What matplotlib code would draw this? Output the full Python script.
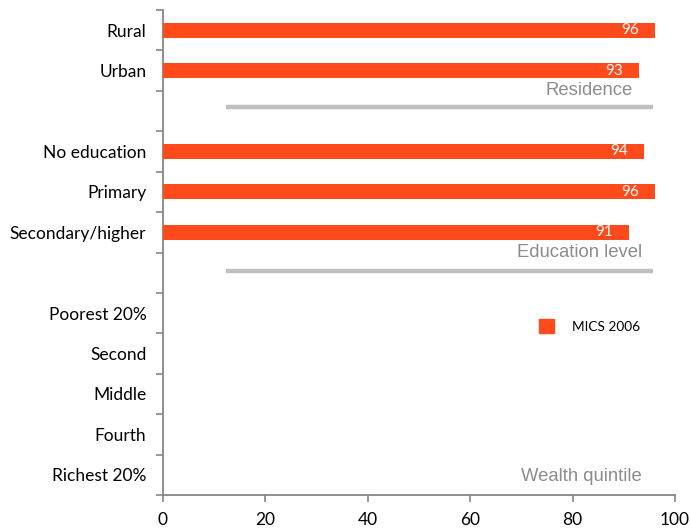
import matplotlib
matplotlib.use("Agg")
import matplotlib.pyplot as plt
from matplotlib.patches import Patch

# Categories, top to bottom (None = spacer rows between groups)
categories = ["Rural", "Urban", None, "No education", "Primary",
              "Secondary/higher", None, "Poorest 20%", "Second", "Middle",
              "Fourth", "Richest 20%"]
mics_2006 = [96, 93, None, 94, 96, 91, None, None, None, None, None, None]

group_names = ["Residence", "Education level", "Wealth quintile"]
x_ticks = [0, 20, 40, 60, 80, 100]
series_name = "MICS 2006"

BAR = "#FF4A1C"
GREY = "#8C8C8C"
AXIS = "#868686"

plt.rcParams["font.family"] = ["Lato", "DejaVu Sans"]

fig = plt.figure(figsize=(6.91, 5.29), dpi=100)
ax = fig.add_axes([163 / 691, 1 - 495 / 529, 512 / 691, 485 / 529])

pos = list(range(len(categories)))
for p, v in zip(pos, mics_2006):
    if v is None:
        continue
    ax.barh(p, v, height=0.37, color=BAR, zorder=3)
    ax.text(v - 3.1, p, f"{v}", color="white", ha="right", va="center",
            fontsize=11, zorder=4)

# group separators and headings
sep_rows = [1.91, 5.97]
for y in sep_rows:
    ax.plot([12.4, 95.8], [y, y], color="#BFBFBF", lw=3.2,
            solid_capstyle="butt", zorder=2)
heading_pos = [(91.8, 1.48), (93.5, 5.51), (93.5, 11.05)]
for name, (x, y) in zip(group_names, heading_pos):
    ax.text(x, y, name, color=GREY, ha="right", va="center", fontsize=13.3,
            family=["Liberation Sans", "DejaVu Sans"])

ax.set_xlim(0, 100)
ax.set_ylim(len(categories) - 0.5, -0.5)
ax.set_xticks(x_ticks)
ax.set_xticklabels([str(t) for t in x_ticks], fontsize=12.5)
ax.set_yticks([p for p, c in zip(pos, categories) if c])
ax.set_yticklabels([c for c in categories if c], fontsize=12.5)
ax.set_yticks([p - 0.5 for p in pos] + [len(categories) - 0.5], minor=True)

ax.tick_params(axis="y", which="major", length=0, pad=12)
ax.tick_params(axis="y", which="minor", length=5, width=1.2, color=AXIS,
               direction="out")
ax.tick_params(axis="x", length=5, width=1.2, color=AXIS, direction="out",
               pad=7)

for s in ["top", "right"]:
    ax.spines[s].set_visible(False)
for s in ["left", "bottom"]:
    ax.spines[s].set_color(AXIS)
    ax.spines[s].set_linewidth(1.3)

leg = ax.legend(handles=[Patch(color=BAR, label=series_name)],
                loc="center left", bbox_to_anchor=(0.71, 0.348),
                frameon=False, fontsize=9.8, handlelength=1.15,
                handleheight=1.15, handletextpad=1.3)

fig.savefig("out.png", dpi=100)
